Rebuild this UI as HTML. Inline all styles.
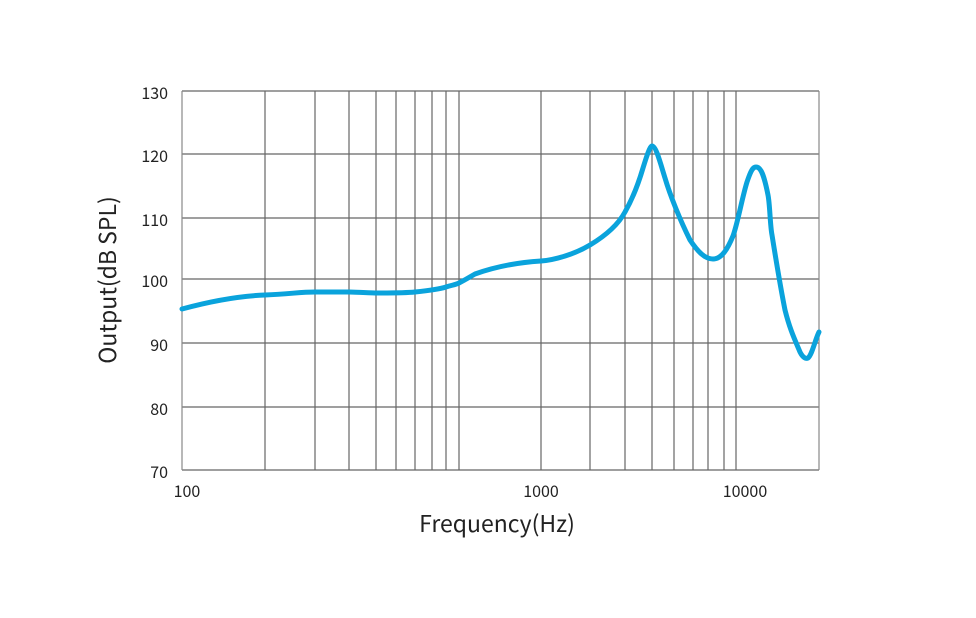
<!DOCTYPE html>
<html><head><style>body{margin:0;background:#fff}</style></head><body>
<svg width="976" height="613" xmlns="http://www.w3.org/2000/svg" font-family="Noto Sans CJK SC, Liberation Sans, sans-serif">
<g stroke="#666" stroke-width="1.2" fill="none">
<path d="M182 91H819M182 154H819M182 218H819M182 279H819M182 343H819M182 407H819M182 470H819"/>
<path d="M265 91V470M315 91V470M349 91V470M376 91V470M396 91V470M415 91V470M432 91V470M446 91V470M459 91V470M541 91V470M590 91V470M625 91V470M652 91V470M674 91V470M693 91V470M708 91V470M724 91V470M736 91V470"/>
<path d="M182 91V470M819 91V470" stroke="#888"/>
</g>
<g font-size="16" fill="#222" text-anchor="end">
<text x="168" y="99">130</text><text x="168" y="162">120</text><text x="168" y="226">110</text><text x="168" y="287">100</text><text x="168" y="351">90</text><text x="168" y="415">80</text><text x="168" y="478">70</text>
</g>
<g font-size="16" fill="#222" text-anchor="middle">
<text x="187" y="497">100</text><text x="541" y="497">1000</text><text x="745" y="497">10000</text>
</g>
<text x="497" y="532" font-size="23" fill="#222" text-anchor="middle">Frequency(Hz)</text>
<text transform="translate(116,280) rotate(-90)" font-size="23" fill="#222" text-anchor="middle">Output(dB SPL)</text>
<path d="M182 309C215 300 240 296 265 295S300 292 315 292S345 292 349 292S370 293 376 293S405 293 415 292S440 289 446 287S455 285 459 283C465 280 468 278 475 274C500 265 525 262 541 261C555 260 575 254 590 245C605 236 618 225 625 212C633 198 638 185 643 168C647 155 650 146 652 146C656 146 660 162 665 178C670 195 680 220 690 240C698 252 705 259 713 259C722 259 728 248 733 236C738 222 742 198 747 182C751 170 753 167 756 167C761 167 764 175 768 195C770 205 770 225 772 235C776 260 780 285 785 310C790 330 795 340 800 352C803 358 806 359 808 358C812 355 815 340 819 332" fill="none" stroke="#0aa3dc" stroke-width="5" stroke-linecap="round" stroke-linejoin="round"/>
</svg>
</body></html>
